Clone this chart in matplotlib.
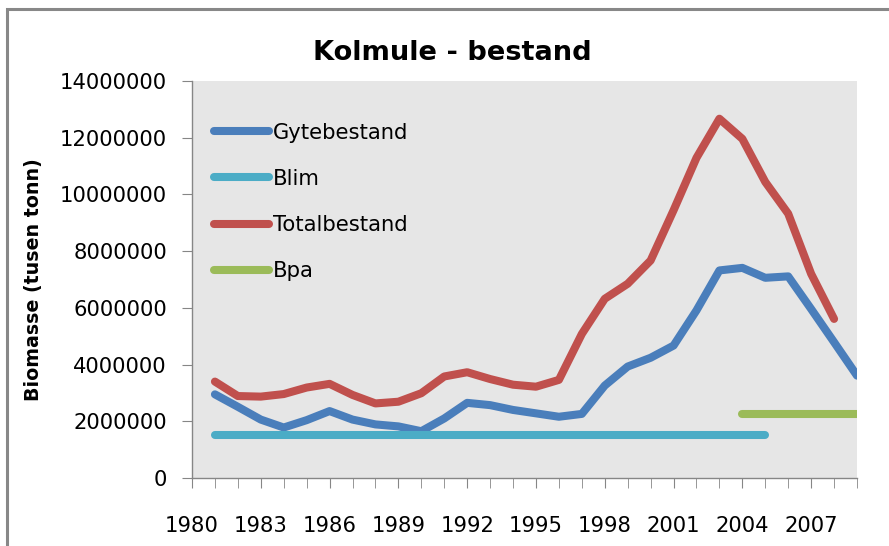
import matplotlib.pyplot as plt
from matplotlib.patches import Rectangle
from matplotlib.ticker import FuncFormatter, MultipleLocator

# Kolmule (blue whiting) stock estimates, 1981-2009
years_gyte = list(range(1981, 2010))
gytebestand = [2950000, 2510000, 2060000, 1780000, 2040000, 2360000, 2060000, 1890000,
               1820000, 1650000, 2100000, 2650000, 2570000, 2400000, 2280000, 2160000,
               2260000, 3260000, 3930000, 4240000, 4670000, 5910000, 7320000, 7410000,
               7060000, 7110000, 5960000, 4790000, 3610000]

years_total = list(range(1981, 2009))
totalbestand = [3400000, 2890000, 2870000, 2960000, 3190000, 3320000, 2930000, 2630000,
                2690000, 2990000, 3580000, 3730000, 3490000, 3290000, 3220000, 3460000,
                5080000, 6320000, 6850000, 7670000, 9440000, 11290000, 12670000, 11960000,
                10440000, 9320000, 7200000, 5610000]

years_blim = [1981, 2005]
blim = [1500000, 1500000]
years_bpa = [2004, 2009]
bpa = [2250000, 2250000]

year_labels = list(range(1980, 2010, 3))

fig = plt.figure(figsize=(8.89, 5.46), dpi=100)
ax = fig.add_axes([192 / 889, 1 - 478 / 546, 665 / 889, 397 / 546])

# outer chart frame
fig.patches.append(Rectangle((7 / 889, -0.5), 2, 0.5 + 1 - 9 / 546, transform=fig.transFigure,
                             fill=False, edgecolor="#888888", linewidth=2.2))

ax.set_facecolor("#E6E6E6")
lw = 5.8
ax.plot(years_gyte, gytebestand, color="#4A7EBB", lw=lw, solid_capstyle="round",
        solid_joinstyle="round", label="Gytebestand")
ax.plot(years_blim, blim, color="#4BACC6", lw=lw, solid_capstyle="round", label="Blim")
ax.plot(years_total, totalbestand, color="#C0504D", lw=lw, solid_capstyle="round",
        solid_joinstyle="round", label="Totalbestand")
ax.plot(years_bpa, bpa, color="#9BBB59", lw=lw, solid_capstyle="round", label="Bpa")

ax.set_xlim(1980, 2009)
ax.set_ylim(0, 14000000)
ax.set_xticks(year_labels)
ax.xaxis.set_minor_locator(MultipleLocator(1))
ax.yaxis.set_major_locator(MultipleLocator(2000000))
ax.yaxis.set_major_formatter(FuncFormatter(lambda v, p: "%d" % v))

for side in ["top", "right"]:
    ax.spines[side].set_visible(False)
for side in ["left", "bottom"]:
    ax.spines[side].set_color("#868686")
    ax.spines[side].set_linewidth(1.0)

ax.tick_params(axis="x", which="both", length=7, color="#868686", direction="out",
               labelsize=15.2, pad=20)
ax.tick_params(axis="y", length=7, color="#868686", direction="out", labelsize=15.2, pad=11)

ax.set_ylabel("Biomasse (tusen tonn)", fontsize=13.7, fontweight="bold", labelpad=12)
fig.text(452 / 889, 1 - 53 / 546, "Kolmule - bestand", ha="center", va="center",
         fontsize=19.6, fontweight="bold")

ax.legend(loc="upper left", bbox_to_anchor=(0.0325, 0.895), frameon=False, fontsize=15.2,
          handlelength=2.6, handletextpad=0.2, labelspacing=1.24, borderpad=0,
          borderaxespad=0)

fig.savefig("out.png", dpi=100)
